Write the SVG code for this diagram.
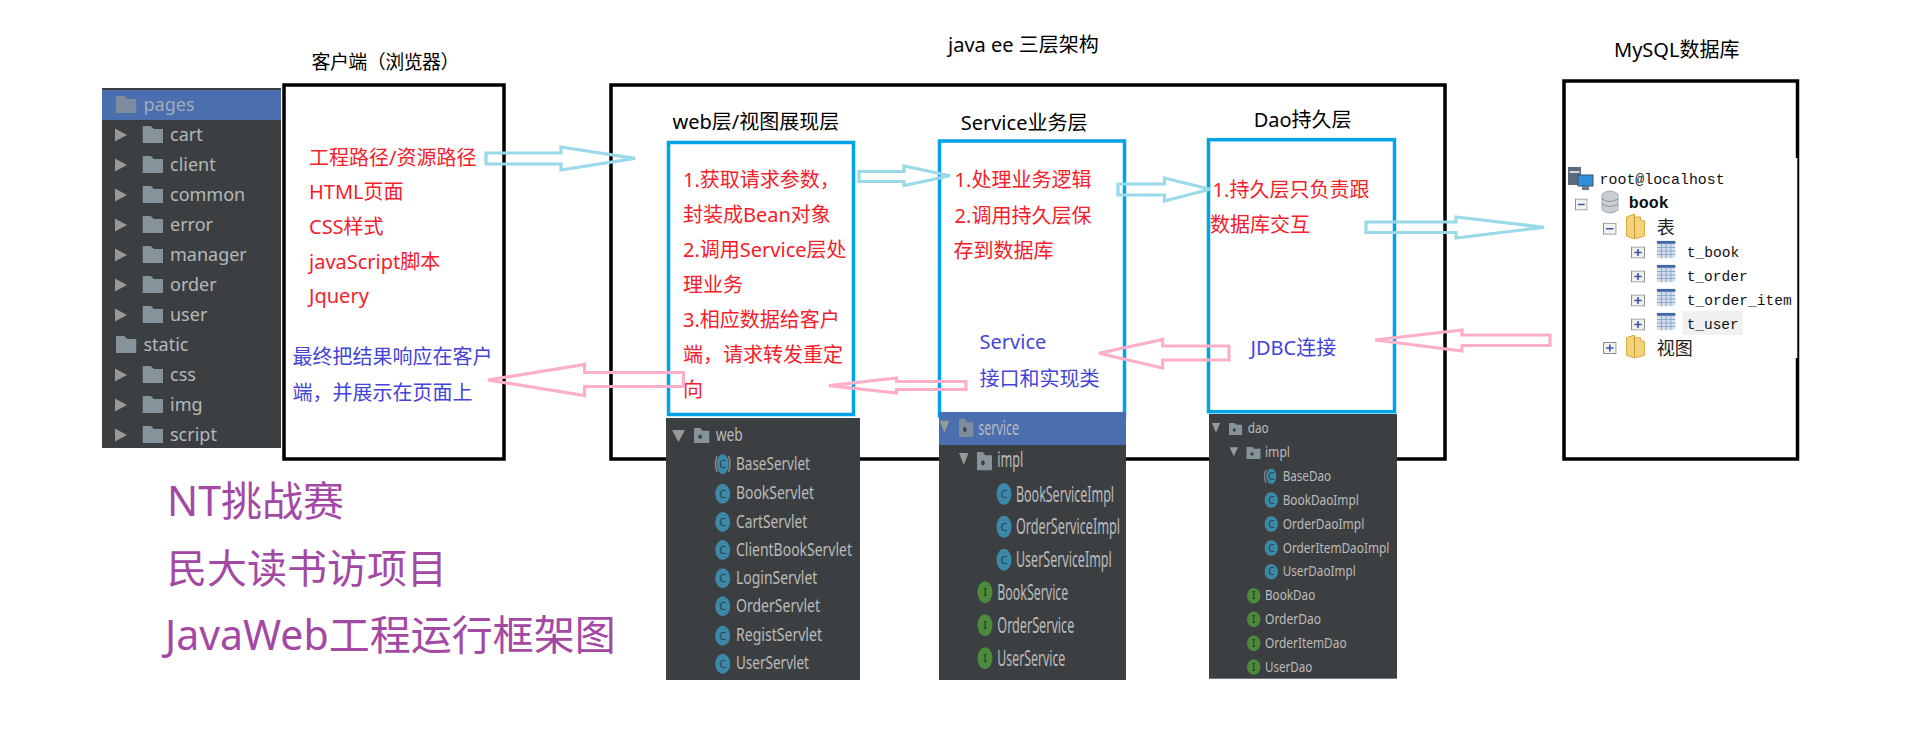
<svg xmlns="http://www.w3.org/2000/svg" xmlns:xlink="http://www.w3.org/1999/xlink" width="1914" height="740" viewBox="0 0 1914 740">
<style>
text{font-family:"Noto Sans","Noto Sans CJK SC",sans-serif;white-space:pre;text-spacing-trim:space-all}
.box{fill:none;stroke:#000;stroke-width:3.5}
.tier{fill:none;stroke:#00a2e8;stroke-width:3.5}
.panel{fill:#3c3f41}
.hl{fill:#4b6eaf}
.t{font-size:19px;fill:#000}
.t2{font-size:20px;fill:#000}
.r{font-size:20px;fill:#f6202a}
.b{font-size:20px;fill:#4444d8}
.p{font-size:41px;fill:#a349a4}
.pg{font-size:18px;fill:#b4b8ba}
.w{font-size:18px;fill:#bbb;transform:translateY(-1px)}
.s{font-size:21px;fill:#bbb;transform:translateY(-1px)}
.d{font-size:14.5px;fill:#bbb;transform:translateY(-1px)}
.m{font-family:"Liberation Mono",monospace;font-size:14.6px;fill:#111}
.mb{font-family:"Liberation Mono",monospace;font-size:16.7px;font-weight:bold;fill:#111}
.mc{font-size:18px;fill:#222}
.tri{fill:#999}
.c{fill:#3b88a8}
.i{fill:#4e8a3c}
.ic{font-size:11px;fill:#2b3f48;text-anchor:middle}
.ii{font-size:11px;fill:#1f3318;text-anchor:middle}
.up{fill:none;stroke:#99d9ea;stroke-width:3.2}
.down{fill:none;stroke:#ffaec9;stroke-width:3.2}
.exp{fill:#f2f2f2;stroke:#8e8e8e;stroke-width:1}
.pm{stroke:#3a55a8;stroke-width:1.5;fill:none}
.tb{fill:#d4deed}
.tbh{fill:#3f69a8}
.tbg{stroke:#93a8c8;stroke-width:1;fill:none}
</style>
<defs>
<symbol id="folder" viewBox="0 0 20 17" preserveAspectRatio="none"><path d="M0 0H8L11 3H20V17H0Z" fill="#87939a"/></symbol>
<symbol id="pkg" viewBox="0 0 20 17" preserveAspectRatio="none"><path d="M0 0H8L11 3H20V17H0Z" fill="#87939a"/><circle cx="8" cy="10" r="2.4" fill="#3c3f41"/></symbol>
<symbol id="yfolder" viewBox="0 0 20 25" preserveAspectRatio="none"><path d="M1 3L9 0V3H15V6L19 7V22L9 25L1 22Z" fill="#f2d27a" stroke="#d8a83a" stroke-width="1"/><path d="M9 1V25" stroke="#c99a30" stroke-width="1"/></symbol>
<symbol id="tbl" viewBox="0 0 18 17" preserveAspectRatio="none"><rect width="18" height="17" class="tb"/><rect width="18" height="3" class="tbh"/><path class="tbg" d="M4.5 3V17M9 3V17M13.5 3V17M0 6.5H18M0 10H18M0 13.5H18"/></symbol>
<symbol id="plus" viewBox="0 0 13 12" preserveAspectRatio="none"><rect x=".5" y=".5" width="12" height="11" class="exp"/><path class="pm" d="M3 6H10M6.5 2.5V9.5"/></symbol>
<symbol id="minus" viewBox="0 0 13 12" preserveAspectRatio="none"><rect x=".5" y=".5" width="12" height="11" class="exp"/><path class="pm" d="M3 6H10"/></symbol>
<polygon id="trir" points="0,-6.5 12,0 0,6.5"/>
</defs>

<g id="client-tree">
<rect class="panel" x="102" y="88" width="179" height="360"/>
<rect class="hl" x="102" y="90" width="179" height="30"/>
<use href="#folder" x="116" y="96" width="20.5" height="17" opacity=".85"/>
<text class="pg" x="143.5" y="111" fill-opacity=".85">pages</text>
<use href="#trir" x="115" y="135" class="tri"/><use href="#folder" x="142.5" y="126" width="20.5" height="17"/><text class="pg" x="170" y="141">cart</text>
<use href="#trir" x="115" y="165" class="tri"/><use href="#folder" x="142.5" y="156" width="20.5" height="17"/><text class="pg" x="170" y="171">client</text>
<use href="#trir" x="115" y="195" class="tri"/><use href="#folder" x="142.5" y="186" width="20.5" height="17"/><text class="pg" x="170" y="201">common</text>
<use href="#trir" x="115" y="225" class="tri"/><use href="#folder" x="142.5" y="216" width="20.5" height="17"/><text class="pg" x="170" y="231">error</text>
<use href="#trir" x="115" y="255" class="tri"/><use href="#folder" x="142.5" y="246" width="20.5" height="17"/><text class="pg" x="170" y="261">manager</text>
<use href="#trir" x="115" y="285" class="tri"/><use href="#folder" x="142.5" y="276" width="20.5" height="17"/><text class="pg" x="170" y="291">order</text>
<use href="#trir" x="115" y="315" class="tri"/><use href="#folder" x="142.5" y="306" width="20.5" height="17"/><text class="pg" x="170" y="321">user</text>
<use href="#folder" x="116" y="336" width="20.5" height="17"/><text class="pg" x="143.5" y="351">static</text>
<use href="#trir" x="115" y="375" class="tri"/><use href="#folder" x="142.5" y="366" width="20.5" height="17"/><text class="pg" x="170" y="381">css</text>
<use href="#trir" x="115" y="405" class="tri"/><use href="#folder" x="142.5" y="396" width="20.5" height="17"/><text class="pg" x="170" y="411">img</text>
<use href="#trir" x="115" y="435" class="tri"/><use href="#folder" x="142.5" y="426" width="20.5" height="17"/><text class="pg" x="170" y="441">script</text>
</g>

<g id="client">
<rect class="box" x="284" y="85" width="220" height="374"/>
<text class="t" x="311.5" y="69" textLength="148">客户端（浏览器）</text>
<text class="r" x="309" y="165">工程路径/资源路径</text>
<text class="r" x="309" y="199">HTML页面</text>
<text class="r" x="309" y="234">CSS样式</text>
<text class="r" x="309" y="269">javaScript脚本</text>
<text class="r" x="309" y="303">Jquery</text>
<text class="b" x="292.5" y="364">最终把结果响应在客户</text>
<text class="b" x="292.5" y="400">端，并展示在页面上</text>
</g>

<g id="javaee">
<rect class="box" x="611" y="85" width="834" height="374"/>
<text class="t2" x="948" y="52">java ee 三层架构</text>
</g>

<g id="web">
<rect class="tier" x="668.5" y="142.5" width="185" height="272"/>
<text class="t2" x="672.5" y="129">web层/视图展现层</text>
<text class="r" x="683" y="187">1.获取请求参数，</text>
<text class="r" x="683" y="222">封装成Bean对象</text>
<text class="r" x="683" y="257">2.调用Service层处</text>
<text class="r" x="683" y="292">理业务</text>
<text class="r" x="683" y="327">3.相应数据给客户</text>
<text class="r" x="683" y="362">端，请求转发重定</text>
<text class="r" x="683" y="397">向</text>
<rect class="panel" x="666" y="418" width="194" height="262"/>
<use href="#trir" transform="translate(678.5 430) rotate(90)" class="tri"/>
<use href="#pkg" x="694" y="428" width="15.5" height="15"/>
<text class="w" x="715.7" y="441.7" textLength="27" lengthAdjust="spacingAndGlyphs">web</text>
<ellipse class="c" cx="722.7" cy="464.3" rx="6" ry="10"/><path d="M717 456Q714 464 717 472M728.5 456Q731.5 464 728.5 472" stroke="#888" stroke-width="1.5" fill="none"/><text class="ic" x="722.7" y="468.3">C</text>
<text class="w" x="736" y="470.8" textLength="74" lengthAdjust="spacingAndGlyphs">BaseServlet</text>
<ellipse class="c" cx="722.7" cy="493.7" rx="7.5" ry="10"/><text class="ic" x="722.7" y="497.7">C</text>
<text class="w" x="736" y="500.2" textLength="78" lengthAdjust="spacingAndGlyphs">BookServlet</text>
<ellipse class="c" cx="722.7" cy="522" rx="7.5" ry="10"/><text class="ic" x="722.7" y="526">C</text>
<text class="w" x="736" y="528.5" textLength="71.3" lengthAdjust="spacingAndGlyphs">CartServlet</text>
<ellipse class="c" cx="722.7" cy="550" rx="7.5" ry="10"/><text class="ic" x="722.7" y="554">C</text>
<text class="w" x="736" y="556.5" textLength="116" lengthAdjust="spacingAndGlyphs">ClientBookServlet</text>
<ellipse class="c" cx="722.7" cy="578.3" rx="7.5" ry="10"/><text class="ic" x="722.7" y="582.3">C</text>
<text class="w" x="736" y="584.8" textLength="81.3" lengthAdjust="spacingAndGlyphs">LoginServlet</text>
<ellipse class="c" cx="722.7" cy="606.3" rx="7.5" ry="10"/><text class="ic" x="722.7" y="610.3">C</text>
<text class="w" x="736" y="612.8" textLength="84" lengthAdjust="spacingAndGlyphs">OrderServlet</text>
<ellipse class="c" cx="722.7" cy="635.7" rx="7.5" ry="10"/><text class="ic" x="722.7" y="639.7">C</text>
<text class="w" x="736" y="642.2" textLength="86" lengthAdjust="spacingAndGlyphs">RegistServlet</text>
<ellipse class="c" cx="722.7" cy="663.7" rx="7.5" ry="10"/><text class="ic" x="722.7" y="667.7">C</text>
<text class="w" x="736" y="670.2" textLength="73" lengthAdjust="spacingAndGlyphs">UserServlet</text>
</g>

<g id="service">
<rect class="tier" x="939.5" y="141" width="185" height="275"/>
<text class="t2" x="960.7" y="130">Service业务层</text>
<text class="r" x="954.6" y="187">1.处理业务逻辑</text>
<text class="r" x="954.6" y="222.7">2.调用持久层保</text>
<text class="r" x="953.6" y="257.6">存到数据库</text>
<text class="b" x="979.6" y="349">Service</text>
<text class="b" x="979.6" y="386">接口和实现类</text>
<rect class="panel" x="939" y="412" width="187" height="268"/>
<rect class="hl" x="939" y="412" width="187" height="33"/>
<use href="#trir" transform="translate(944.5 420.7) rotate(90) scale(1 .72)" class="tri"/>
<use href="#pkg" x="959" y="419" width="14.5" height="18" opacity=".85"/>
<text class="w" x="978.3" y="435.7" textLength="40.7" lengthAdjust="spacingAndGlyphs" style="font-size:20px">service</text>
<use href="#trir" transform="translate(963.8 453) rotate(90) scale(1 .72)" class="tri"/>
<use href="#pkg" x="977" y="452" width="15" height="18.5"/>
<text class="s" x="997.3" y="468.3" textLength="26" lengthAdjust="spacingAndGlyphs">impl</text>
<ellipse class="c" cx="1004" cy="494" rx="7.5" ry="11"/><text class="ic" x="1004" y="498">C</text>
<text class="s" x="1016" y="502.5" textLength="98" lengthAdjust="spacingAndGlyphs">BookServiceImpl</text>
<ellipse class="c" cx="1004" cy="526.7" rx="7.5" ry="11"/><text class="ic" x="1004" y="530.7">C</text>
<text class="s" x="1016" y="535.2" textLength="104" lengthAdjust="spacingAndGlyphs">OrderServiceImpl</text>
<ellipse class="c" cx="1004" cy="559.7" rx="7.5" ry="11"/><text class="ic" x="1004" y="563.7">C</text>
<text class="s" x="1016" y="568.2" textLength="95.7" lengthAdjust="spacingAndGlyphs">UserServiceImpl</text>
<ellipse class="i" cx="985" cy="592.3" rx="7.5" ry="11"/><text class="ii" x="985" y="596.3">I</text>
<text class="s" x="997.3" y="600.8" textLength="71" lengthAdjust="spacingAndGlyphs">BookService</text>
<ellipse class="i" cx="985" cy="625.3" rx="7.5" ry="11"/><text class="ii" x="985" y="629.3">I</text>
<text class="s" x="997.3" y="633.8" textLength="77" lengthAdjust="spacingAndGlyphs">OrderService</text>
<ellipse class="i" cx="985" cy="658.3" rx="7.5" ry="11"/><text class="ii" x="985" y="662.3">I</text>
<text class="s" x="997.3" y="666.8" textLength="68" lengthAdjust="spacingAndGlyphs">UserService</text>
</g>

<g id="dao">
<rect class="tier" x="1208.5" y="139.7" width="186" height="272"/>
<text class="t2" x="1253.7" y="126.7">Dao持久层</text>
<text class="r" x="1212.6" y="196.7">1.持久层只负责跟</text>
<text class="r" x="1210" y="231.7">数据库交互</text>
<text class="b" x="1250.5" y="355">JDBC连接</text>
<rect class="panel" x="1209" y="414" width="188" height="264.7"/>
<use href="#trir" transform="translate(1216 423) rotate(90) scale(.8 .65)" class="tri"/>
<use href="#pkg" x="1229" y="422.7" width="13.3" height="12.3"/>
<text class="d" x="1247.7" y="434" textLength="21" lengthAdjust="spacingAndGlyphs">dao</text>
<use href="#trir" transform="translate(1233.8 447.3) rotate(90) scale(.75 .65)" class="tri"/>
<use href="#pkg" x="1246.3" y="446.7" width="14.4" height="12.3"/>
<text class="d" x="1265" y="457.7" textLength="25" lengthAdjust="spacingAndGlyphs">impl</text>
<ellipse class="c" cx="1271.3" cy="476.3" rx="5" ry="7.7"/><path d="M1266 470Q1263 476 1266 483" stroke="#888" stroke-width="1.2" fill="none"/><text class="ic" x="1271.3" y="480" style="font-size:10px">C</text>
<text class="d" x="1282.7" y="481.8" textLength="48.3" lengthAdjust="spacingAndGlyphs">BaseDao</text>
<ellipse class="c" cx="1271.3" cy="500" rx="6.7" ry="7.7"/><text class="ic" x="1271.3" y="503.7" style="font-size:10px">C</text>
<text class="d" x="1282.7" y="505.5" textLength="76" lengthAdjust="spacingAndGlyphs">BookDaoImpl</text>
<ellipse class="c" cx="1271.3" cy="524" rx="6.7" ry="7.7"/><text class="ic" x="1271.3" y="527.7" style="font-size:10px">C</text>
<text class="d" x="1282.7" y="529.5" textLength="81.6" lengthAdjust="spacingAndGlyphs">OrderDaoImpl</text>
<ellipse class="c" cx="1271.3" cy="548" rx="6.7" ry="7.7"/><text class="ic" x="1271.3" y="551.7" style="font-size:10px">C</text>
<text class="d" x="1282.7" y="553.5" textLength="106.6" lengthAdjust="spacingAndGlyphs">OrderItemDaoImpl</text>
<ellipse class="c" cx="1271.3" cy="571.7" rx="6.7" ry="7.7"/><text class="ic" x="1271.3" y="575.4" style="font-size:10px">C</text>
<text class="d" x="1282.7" y="577.2" textLength="73" lengthAdjust="spacingAndGlyphs">UserDaoImpl</text>
<ellipse class="i" cx="1253.7" cy="595.7" rx="6.7" ry="7.7"/><text class="ii" x="1253.7" y="599.4" style="font-size:10px">I</text>
<text class="d" x="1265" y="601.2" textLength="50.3" lengthAdjust="spacingAndGlyphs">BookDao</text>
<ellipse class="i" cx="1253.7" cy="619.3" rx="6.7" ry="7.7"/><text class="ii" x="1253.7" y="623" style="font-size:10px">I</text>
<text class="d" x="1265" y="624.8" textLength="56" lengthAdjust="spacingAndGlyphs">OrderDao</text>
<ellipse class="i" cx="1253.7" cy="643.3" rx="6.7" ry="7.7"/><text class="ii" x="1253.7" y="647" style="font-size:10px">I</text>
<text class="d" x="1265" y="648.8" textLength="81.7" lengthAdjust="spacingAndGlyphs">OrderItemDao</text>
<ellipse class="i" cx="1253.7" cy="667" rx="6.7" ry="7.7"/><text class="ii" x="1253.7" y="670.7" style="font-size:10px">I</text>
<text class="d" x="1265" y="672.5" textLength="47.3" lengthAdjust="spacingAndGlyphs">UserDao</text>
</g>

<g id="mysql">
<rect class="box" x="1564" y="81" width="233.5" height="378"/>
<text class="t2" x="1614" y="56.7">MySQL数据库</text>
<rect x="1566" y="158" width="231.3" height="200" fill="#fff"/>
<rect x="1568" y="167" width="13" height="18" fill="#5a6b7c"/><rect x="1569.5" y="171" width="10" height="2" fill="#cfd8e0"/><rect x="1578" y="175" width="15" height="11" fill="#2f8fd8" stroke="#39536b" stroke-width="1"/><rect x="1582" y="186" width="7" height="4" fill="#6a7a8a"/>
<text class="m" x="1599.6" y="184" textLength="125" lengthAdjust="spacingAndGlyphs">root@localhost</text>
<use href="#minus" x="1575" y="198.5" width="12.6" height="12"/>
<path d="M1602 194Q1610 188 1618 194V210Q1610 216 1602 210Z" fill="#c9ced2" stroke="#a5abb0" stroke-width="1"/><path d="M1602 199Q1610 204 1618 199M1602 204Q1610 209 1618 204" stroke="#8f969c" stroke-width="1" fill="none"/>
<text class="mb" x="1628.7" y="208">book</text>
<use href="#minus" x="1603" y="222.7" width="13.6" height="12"/>
<use href="#yfolder" x="1625.5" y="214" width="20" height="25"/>
<text class="mc" x="1656.8" y="234">表</text>
<use href="#plus" x="1631" y="246.5" width="14" height="12"/><use href="#tbl" x="1656.8" y="240.7" width="18.7" height="17.5"/>
<text class="m" x="1686.7" y="256.7" textLength="52.6" lengthAdjust="spacingAndGlyphs">t_book</text>
<use href="#plus" x="1631" y="270.5" width="14" height="12"/><use href="#tbl" x="1656.8" y="264.7" width="18.7" height="17.5"/>
<text class="m" x="1686.7" y="280.7" textLength="61" lengthAdjust="spacingAndGlyphs">t_order</text>
<use href="#plus" x="1631" y="294.5" width="14" height="12"/><use href="#tbl" x="1656.8" y="288.7" width="18.7" height="17.5"/>
<text class="m" x="1686.7" y="305" textLength="105" lengthAdjust="spacingAndGlyphs">t_order_item</text>
<use href="#plus" x="1631" y="318.5" width="14" height="12"/><use href="#tbl" x="1656.8" y="312.7" width="18.7" height="17.5"/>
<rect x="1682.7" y="311" width="60" height="24" fill="#f0f0f0"/>
<text class="m" x="1686.7" y="329" textLength="52" lengthAdjust="spacingAndGlyphs">t_user</text>
<use href="#plus" x="1603" y="342" width="13.6" height="12"/>
<use href="#yfolder" x="1625.5" y="335" width="20" height="23"/>
<text class="mc" x="1656.8" y="355">视图</text>
</g>

<g id="connectors">
<polygon class="up" points="486,153 561,153 561,147 635,158.3 561,170 561,164 486,164"/>
<polygon class="up" points="859,171.5 904,171.5 904,166 950,175.7 904,185.5 904,181.5 859,181.5"/>
<polygon class="up" points="1118,184 1164.5,184 1164.5,178 1210,189.3 1164.5,201 1164.5,195 1118,195"/>
<polygon class="up" points="1366,222 1456,222 1456,217 1544,227.3 1456,238 1456,232.5 1366,232.5"/>
<polygon class="down" points="1550,335 1462,335 1462,330 1375,340 1462,351 1462,345.5 1550,345.5"/>
<polygon class="down" points="1229,346 1162.6,346 1162.6,339.5 1099,353.3 1162.6,368 1162.6,360 1229,360"/>
<polygon class="down" points="966,381.5 896.5,381.5 896.5,378 829,385.7 896.5,393 896.5,389.5 966,389.5"/>
<polygon class="down" points="683.5,372.5 584.6,372.5 584.6,364.5 488,380 584.6,395.5 584.6,386.5 683.5,386.5"/>
</g>

<g id="title">
<text class="p" x="167" y="516">NT挑战赛</text>
<text class="p" x="167" y="583" style="font-size:40px">民大读书访项目</text>
<text class="p" x="165" y="650">JavaWeb工程运行框架图</text>
</g>
</svg>
